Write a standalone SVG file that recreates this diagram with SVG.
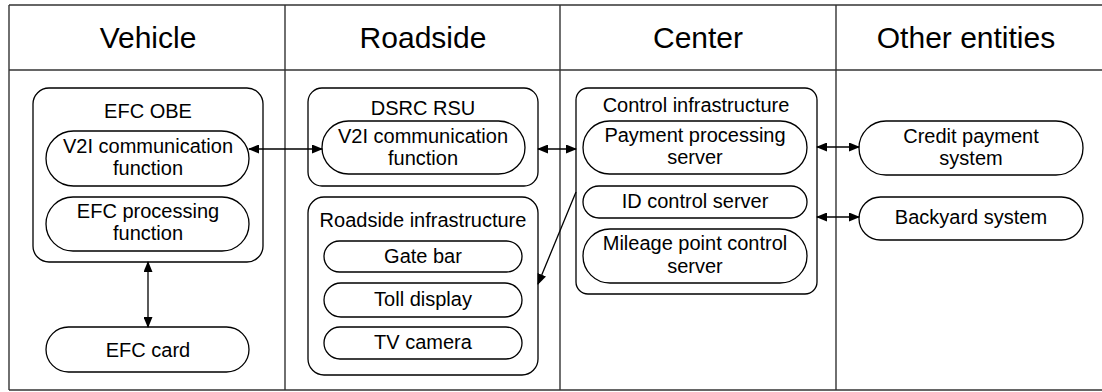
<svg xmlns="http://www.w3.org/2000/svg" width="1102" height="392" viewBox="0 0 1102 392">
<style>
.grid{fill:none;stroke:#333;stroke-width:1.4}
.box{fill:#fff;stroke:#000;stroke-width:1.3}
.t{font-family:"Liberation Sans",Arial,sans-serif;font-size:20px;fill:#000;text-anchor:middle}
.h{font-family:"Liberation Sans",Arial,sans-serif;font-size:30px;fill:#000;text-anchor:middle}
.c{fill:none;stroke:#000;stroke-width:1.3}
</style>
<defs>
<marker id="ah" markerUnits="userSpaceOnUse" markerWidth="11" markerHeight="9" refX="10" refY="4.5" orient="auto-start-reverse">
<path d="M0,0 L11,4.5 L0,9 z" fill="#000"/>
</marker>
</defs>
<g id="table">
<line class="grid" x1="9" y1="5" x2="1102" y2="5"/>
<line class="grid" x1="9" y1="390" x2="1102" y2="390"/>
<line class="grid" x1="9" y1="5" x2="9" y2="390"/>
<line class="grid" x1="9" y1="70" x2="1102" y2="70"/>
<line class="grid" x1="285" y1="5" x2="285" y2="390"/>
<line class="grid" x1="560" y1="5" x2="560" y2="390"/>
<line class="grid" x1="836" y1="5" x2="836" y2="390"/>
<text class="h" x="148" y="48">Vehicle</text>
<text class="h" x="423" y="48">Roadside</text>
<text class="h" x="698" y="48">Center</text>
<text class="h" x="966" y="48">Other entities</text>
</g>
<g id="efc-obe">
<rect class="box" x="33" y="88" width="230" height="174" rx="16"/>
<text class="t" x="148" y="118">EFC OBE</text>
</g>
<g id="obe-v2i">
<rect class="box" x="46" y="131" width="203" height="55" rx="27.5"/>
<text class="t" x="148" y="153">V2I communication</text>
<text class="t" x="148" y="175">function</text>
</g>
<g id="efc-processing">
<rect class="box" x="46" y="197" width="203" height="54" rx="27"/>
<text class="t" x="148" y="218">EFC processing</text>
<text class="t" x="148" y="240">function</text>
</g>
<g id="efc-card">
<rect class="box" x="46" y="327" width="203" height="45" rx="22.5"/>
<text class="t" x="148" y="357">EFC card</text>
</g>
<g id="dsrc-rsu">
<rect class="box" x="308" y="88" width="230" height="98" rx="14"/>
<text class="t" x="423" y="115">DSRC RSU</text>
</g>
<g id="rsu-v2i">
<rect class="box" x="322" y="121" width="203" height="53" rx="26.5"/>
<text class="t" x="423" y="143">V2I communication</text>
<text class="t" x="423" y="165">function</text>
</g>
<g id="roadside-infra">
<rect class="box" x="308" y="197" width="230" height="178" rx="16"/>
<text class="t" x="423" y="227">Roadside infrastructure</text>
</g>
<g id="gate-bar">
<rect class="box" x="324" y="241" width="198" height="31" rx="15.5"/>
<text class="t" x="423" y="263">Gate bar</text>
</g>
<g id="toll-display">
<rect class="box" x="324" y="283" width="198" height="34" rx="17"/>
<text class="t" x="423" y="306">Toll display</text>
</g>
<g id="tv-camera">
<rect class="box" x="324" y="327" width="198" height="32" rx="16"/>
<text class="t" x="423" y="349">TV camera</text>
</g>
<g id="control-infra">
<rect class="box" x="576" y="88" width="241" height="206" rx="12"/>
<text class="t" x="696" y="112">Control infrastructure</text>
</g>
<g id="payment-server">
<rect class="box" x="583" y="121" width="224" height="53" rx="26.5"/>
<text class="t" x="695" y="142">Payment processing</text>
<text class="t" x="695" y="164">server</text>
</g>
<g id="id-control-server">
<rect class="box" x="583" y="186" width="224" height="32" rx="16"/>
<text class="t" x="695" y="208">ID control server</text>
</g>
<g id="mileage-server">
<rect class="box" x="583" y="229" width="224" height="54" rx="27"/>
<text class="t" x="695" y="250">Mileage point control</text>
<text class="t" x="695" y="273">server</text>
</g>
<g id="credit-payment">
<rect class="box" x="859" y="121" width="224" height="54" rx="27"/>
<text class="t" x="971" y="143">Credit payment</text>
<text class="t" x="971" y="165">system</text>
</g>
<g id="backyard">
<rect class="box" x="859" y="197" width="224" height="43" rx="21.5"/>
<text class="t" x="971" y="224">Backyard system</text>
</g>
<g id="connectors">
<line class="c" x1="249" y1="149" x2="322" y2="149" marker-start="url(#ah)" marker-end="url(#ah)"/>
<line class="c" x1="148" y1="262" x2="148" y2="327" marker-start="url(#ah)" marker-end="url(#ah)"/>
<line class="c" x1="538" y1="149" x2="576" y2="149" marker-start="url(#ah)" marker-end="url(#ah)"/>
<line class="c" x1="576" y1="192" x2="538" y2="284" marker-end="url(#ah)"/>
<line class="c" x1="817" y1="147" x2="859" y2="147" marker-start="url(#ah)" marker-end="url(#ah)"/>
<line class="c" x1="817" y1="217" x2="859" y2="217" marker-start="url(#ah)" marker-end="url(#ah)"/>
</g>
</svg>
